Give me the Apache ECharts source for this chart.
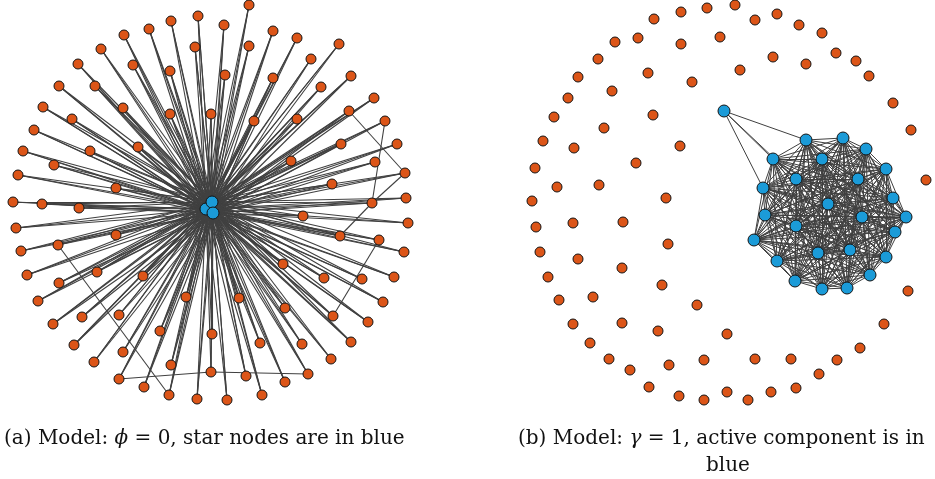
<!DOCTYPE html>
<html>
<head>
<meta charset="utf-8">
<script src="https://cdn.jsdelivr.net/npm/echarts@6/dist/echarts.min.js"></script>
<style>html,body{margin:0;padding:0;background:#fff}#c{width:935px;height:479px}</style>
</head>
<body>
<div id="c"></div>
<script>
// ---- Panel (a): star model, phi = 0 ----
const leftStarNodes = [[206,209],[212,202],[213,213]];
const leftOtherNodes = [
 [198,16],[171,21],[149,29],[124,35],[195,47],[101,49],[78,64],[133,65],[170,71],[59,86],
 [95,86],[43,107],[123,108],[72,119],[170,114],[211,114],[34,130],[138,147],[23,151],[90,151],
 [54,165],[18,175],[116,188],[13,202],[42,204],[79,208],[249,5],[224,25],[273,31],[249,46],
 [297,38],[339,44],[311,59],[225,75],[273,78],[351,76],[321,87],[374,98],[254,121],[297,119],
 [349,111],[385,121],[341,144],[397,144],[291,161],[375,162],[405,173],[332,184],[406,198],[372,203],
 [16,228],[116,235],[21,251],[58,245],[27,275],[97,272],[59,283],[143,276],[38,301],[186,297],
 [82,317],[119,315],[53,324],[160,331],[212,334],[74,345],[123,352],[94,362],[171,365],[119,379],
 [211,372],[144,387],[169,395],[197,399],[303,216],[408,223],[340,236],[379,240],[404,252],[283,264],
 [324,278],[362,279],[394,277],[383,302],[239,298],[285,308],[333,316],[368,322],[260,343],[302,344],
 [351,342],[331,359],[246,376],[285,382],[308,374],[262,395],[227,400]
];
// extra edges between non-star nodes (indices into leftOtherNodes)
const leftExtraEdges = [[40,46],[46,49],[41,49],[49,76],[77,86],[53,72],[69,70],[70,94]];

// ---- Panel (b): gamma = 1, active component ----
const rightIsolatedNodes = [
 [707,8],[681,12],[654,19],[720,37],[638,38],[615,42],[681,44],[598,59],[648,73],[692,82],
 [578,77],[612,91],[568,98],[554,117],[653,115],[604,128],[543,141],[574,148],[680,146],[636,163],
 [535,168],[557,187],[599,185],[532,201],[666,198],[735,5],[755,20],[777,14],[799,25],[822,33],
 [773,57],[740,70],[806,64],[836,53],[856,61],[869,76],[893,103],[911,130],[926,180],[908,291],
 [884,324],[727,334],[860,348],[755,359],[791,359],[837,360],[819,374],[727,392],[771,392],[796,388],
 [748,400],[536,227],[573,223],[623,222],[668,244],[540,252],[578,259],[622,268],[548,277],[662,285],
 [559,300],[593,297],[697,305],[573,324],[622,323],[658,331],[590,343],[609,359],[630,370],[669,365],
 [704,360],[649,387],[679,396],[704,400]
];
const rightCliqueNodes = [
 [806,140],[843,138],[866,149],[773,159],[822,159],[886,169],[796,179],[858,179],[763,188],[893,198],
 [828,204],[765,215],[906,217],[862,217],[796,226],[895,232],[754,240],[818,253],[850,250],[886,257],
 [777,261],[870,275],[795,281],[822,289],[847,288]
];
const rightPendantNode = [724,111];
const rightPendantLinks = [0,3,6,8]; // indices into rightCliqueNodes

const captionA = '(a) Model: {i|ϕ} = 0, star nodes are in blue';
const captionB1 = '(b) Model: {i|γ} = 1, active component is in';
const captionB2 = 'blue';

const ORANGE = '#dc5518', BLUE = '#1b9bd8', EDGE = '#404040', BORDER = '#151515';

function node(p, blue){
  return {value: p, symbolSize: blue ? 12 : 10,
    itemStyle: {color: blue ? BLUE : ORANGE, borderColor: BORDER, borderWidth: 1}};
}

// left graph
const leftNodes = [];
leftOtherNodes.forEach(p => leftNodes.push(node(p, false)));
const starOffset = leftNodes.length;
leftStarNodes.forEach(p => leftNodes.push(node(p, true)));
const leftLinks = [];
for (let i = 0; i < leftOtherNodes.length; i++)
  for (let s = 0; s < leftStarNodes.length; s++)
    leftLinks.push({source: i, target: starOffset + s});
for (let a = 0; a < leftStarNodes.length; a++)
  for (let b = a + 1; b < leftStarNodes.length; b++)
    leftLinks.push({source: starOffset + a, target: starOffset + b});
leftExtraEdges.forEach(e => leftLinks.push({source: e[0], target: e[1]}));

// right graph
const rightNodes = [];
rightIsolatedNodes.forEach(p => rightNodes.push(node(p, false)));
const cliqueOffset = rightNodes.length;
rightCliqueNodes.forEach(p => rightNodes.push(node(p, true)));
const pendIdx = rightNodes.length;
rightNodes.push(node(rightPendantNode, true));
const rightLinks = [];
for (let a = 0; a < rightCliqueNodes.length; a++)
  for (let b = a + 1; b < rightCliqueNodes.length; b++)
    rightLinks.push({source: cliqueOffset + a, target: cliqueOffset + b});
rightPendantLinks.forEach(k => rightLinks.push({source: pendIdx, target: cliqueOffset + k}));

const FONT = '"DejaVu Serif", "Liberation Serif", serif';
const FS = 20;
const rich = {i: {fontStyle: 'italic', fontFamily: FONT, fontSize: FS, fill: '#111', color: '#111'}};

const chart = echarts.init(document.getElementById('c'), null, {renderer: 'canvas'});
chart.setOption({
  animation: false,
  backgroundColor: '#fff',
  grid: {left: 0, right: 0, top: 0, bottom: 0},
  xAxis: {type: 'value', min: 0, max: 935, show: false},
  yAxis: {type: 'value', min: 0, max: 479, inverse: true, show: false},
  series: [
    {type: 'graph', coordinateSystem: 'cartesian2d', layout: 'none', silent: true,
     data: leftNodes, links: leftLinks,
     lineStyle: {color: EDGE, width: 1.1, opacity: 1, curveness: 0}},
    {type: 'graph', coordinateSystem: 'cartesian2d', layout: 'none', silent: true,
     data: rightNodes, links: rightLinks,
     lineStyle: {color: EDGE, width: 1, opacity: 1, curveness: 0}}
  ],
  graphic: [
    {type: 'text', x: 4, y: 439,
     style: {text: captionA, font: FS + 'px ' + FONT, fill: '#111', rich: rich, textVerticalAlign: 'middle', verticalAlign: 'middle'}},
    {type: 'text', x: 518, y: 439,
     style: {text: captionB1, font: FS + 'px ' + FONT, fill: '#111', rich: rich, textVerticalAlign: 'middle', verticalAlign: 'middle'}},
    {type: 'text', x: 728, y: 466,
     style: {text: captionB2, font: FS + 'px ' + FONT, fill: '#111', align: 'center', textAlign: 'center', textVerticalAlign: 'middle', verticalAlign: 'middle'}}
  ]
});
</script>
</body>
</html>
